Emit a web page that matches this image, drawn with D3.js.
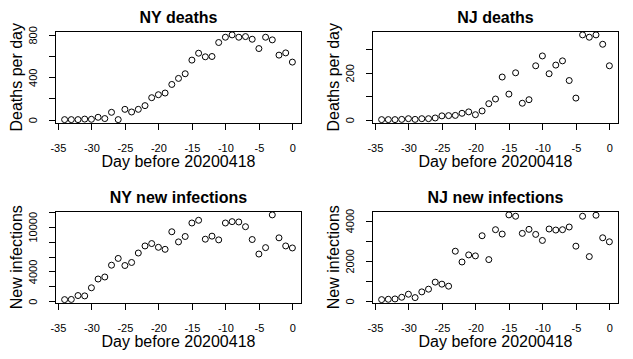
<!DOCTYPE html>
<html>
<head>
<meta charset="utf-8">
<script src="https://cdn.jsdelivr.net/npm/d3@7"></script>
<style>
  body { margin: 0; background: #fff; }
  svg { display: block; font-family: "Liberation Sans", Arial, Helvetica, sans-serif; }
  .tick text { font-size: 11px; }
</style>
</head>
<body>
<svg id="chart" width="633" height="359"></svg>
<script>
// ---- data ----
const days = [-34,-33,-32,-31,-30,-29,-28,-27,-26,-25,-24,-23,-22,-21,-20,-19,-18,-17,-16,-15,-14,-13,-12,-11,-10,-9,-8,-7,-6,-5,-4,-3,-2,-1,0];

const nyDeaths = [0,0,0,5,3,22,10,69,0,97,72,97,132,207,235,251,332,389,433,562,627,593,596,728,778,800,778,784,759,671,778,753,609,630,543];
const njDeaths = [0,0,0,1,4,1,4,4,7,16,17,18,27,33,21,37,68,88,182,109,200,70,85,230,272,196,233,251,167,92,362,352,362,322,230];
const nyInfections = [226,250,770,724,1810,2987,3258,4842,5747,4797,5204,6471,7421,7738,7240,6969,9322,7964,8688,10498,10860,8326,8733,8236,10498,10679,10634,10000,8281,6335,7195,11584,8507,7421,7150];
const njInfections = [67,84,100,184,335,167,452,586,937,837,736,2477,1941,2293,2243,3247,2059,3548,3331,4285,4218,3364,3565,3314,3013,3582,3531,3548,3682,2728,4218,2209,4268,3146,2946];

const xTicks = [-35,-30,-25,-20,-15,-10,-5,0];
const xTickLabels = ["-35","-30","-25","-20","-15","-10","-5","0"];

const nyDeathTicks = [0,200,400,600,800];
const nyDeathTickLabels = ["0","","400","","800"];
const njDeathTicks = [0,100,200,300];
const njDeathTickLabels = ["0","","200",""];
const nyInfTicks = [0,2000,4000,6000,8000,10000,12000];
const nyInfTickLabels = ["0","","4000","","","10000",""];
const njInfTicks = [0,1000,2000,3000,4000];
const njInfTickLabels = ["0","","2000","","4000"];

const titles = ["NY deaths","NJ deaths","NY new infections","NJ new infections"];
const yLabels = ["Deaths per day","Deaths per day","New infections","New infections"];
const xLabel = "Day before 20200418";

// ---- layout ----
const panels = [
  {col:0,row:0,vals:nyDeaths,ticks:nyDeathTicks,labels:nyDeathTickLabels},
  {col:1,row:0,vals:njDeaths,ticks:njDeathTicks,labels:njDeathTickLabels},
  {col:0,row:1,vals:nyInfections,ticks:nyInfTicks,labels:nyInfTickLabels},
  {col:1,row:1,vals:njInfections,ticks:njInfTicks,labels:njInfTickLabels}
];

const svg = d3.select("#chart");
const W = 316.5, H = 179.5;
const box = {left:55.5, right:301.5, top:31.5, bottom:123};

function rExtent(arr){
  const [a,b] = d3.extent(arr);
  const pad = (b-a)*0.04;
  return [a-pad, b+pad];
}

panels.forEach((p,i)=>{
  const g = svg.append("g").attr("transform",`translate(${Math.round(p.col*W)},${Math.round(p.row*H)})`);
  const x = d3.scaleLinear().domain(rExtent(days)).range([box.left, box.right]);
  const y = d3.scaleLinear().domain(rExtent(p.vals)).range([box.bottom, box.top]);

  // box
  g.append("rect")
    .attr("x",box.left).attr("y",box.top)
    .attr("width",box.right-box.left).attr("height",box.bottom-box.top)
    .attr("fill","none").attr("stroke","#000").attr("stroke-width",1)
    .attr("shape-rendering","crispEdges");

  // x axis
  const xAxis = d3.axisBottom(x).tickValues(xTicks).tickSize(7)
    .tickFormat((d,k)=>xTickLabels[k]);
  const gx = g.append("g").attr("transform",`translate(0,${box.bottom})`).call(xAxis);
  gx.attr("font-family",null).attr("font-size",null);
  gx.select(".domain").attr("d",`M${x(xTicks[0])},0H${x(xTicks[xTicks.length-1])}`).attr("shape-rendering","crispEdges");
  gx.selectAll(".tick line").attr("shape-rendering","crispEdges");
  gx.selectAll(".tick text").attr("y",null).attr("dy",null)
    .attr("transform","translate(0,29)")
    .attr("fill","#000");

  // y axis
  const yAxis = d3.axisLeft(y).tickValues(p.ticks).tickSize(7)
    .tickFormat((d,k)=>p.labels[k]);
  const gy = g.append("g").attr("transform",`translate(${box.left},0)`).call(yAxis);
  gy.attr("font-family",null).attr("font-size",null);
  gy.select(".domain").attr("d",`M0,${y(p.ticks[0])}V${y(p.ticks[p.ticks.length-1])}`).attr("shape-rendering","crispEdges");
  gy.selectAll(".tick line").attr("shape-rendering","crispEdges");
  gy.selectAll(".tick text")
    .attr("x",null).attr("dy",null)
    .attr("text-anchor","middle")
    .attr("transform","translate(-19,0) rotate(-90)")
    .attr("fill","#000");

  // points
  g.append("g").selectAll("circle")
    .data(days.map((d,k)=>({d, v:p.vals[k]})))
    .join("circle")
    .attr("cx",d=>x(d.d)).attr("cy",d=>y(d.v)).attr("r",3)
    .attr("fill","none").attr("stroke","#000").attr("stroke-width",1);

  // title
  g.append("text")
    .attr("x",(box.left+box.right)/2).attr("y",22.5)
    .attr("text-anchor","middle")
    .style("font-size","16px").style("font-weight","bold")
    .text(titles[i]);

  // x label
  g.append("text")
    .attr("x",(box.left+box.right)/2).attr("y",167)
    .attr("text-anchor","middle")
    .style("font-size","16px")
    .text(xLabel);

  // y label
  g.append("text")
    .attr("transform",`translate(22,${(box.top+box.bottom)/2}) rotate(-90)`)
    .attr("text-anchor","middle")
    .style("font-size","16px")
    .text(yLabels[i]);
});
</script>
</body>
</html>
